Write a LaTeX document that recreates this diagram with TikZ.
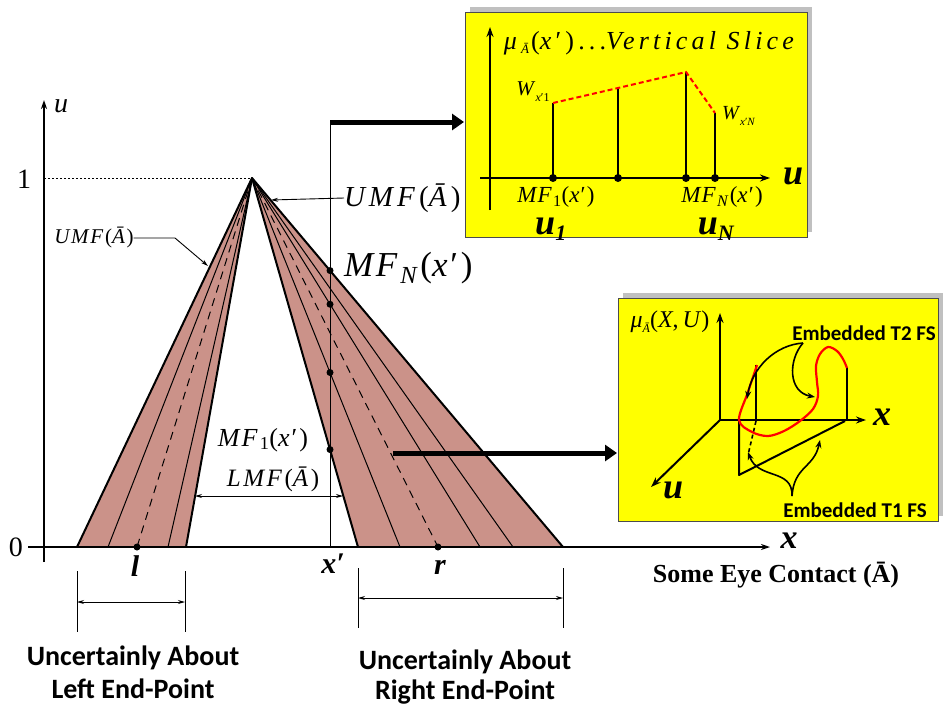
\documentclass[tikz,border=0pt]{standalone}
\usepackage{fontspec}
\setmainfont{Liberation Serif}
\newfontfamily\calib{Carlito}
\usetikzlibrary{arrows.meta,calc}
\definecolor{rose}{RGB}{203,146,137}
\definecolor{shadowgray}{RGB}{192,192,192}
\definecolor{boxyellow}{RGB}{255,255,0}
\newcommand\fsz[1]{\fontsize{#1}{#1}\selectfont}
\newcommand\Abar{\textit{Ā}}
\newcommand\xp{\textit{x}′}
\newcommand\lsp[1]{\addfontfeatures{LetterSpace=#1}}
\begin{document}
\begin{tikzpicture}[x=1pt,y=-1pt,
  thinline/.style={line width=1pt},
  edgeline/.style={line width=2pt},
  axisline/.style={line width=1.5pt,-{Stealth[length=9pt,width=6pt]}},
  boxaxis/.style={line width=2pt,-{Stealth[length=10pt,width=7pt]}},
  smallarrow/.style={line width=0.9pt,-{Stealth[length=7pt,width=4pt]}},
  dblarrow/.style={line width=0.9pt,{Stealth[length=7pt,width=4pt]}-{Stealth[length=7pt,width=4pt]}},
  bigarrow/.style={line width=5pt,-{Triangle[length=12pt,width=16pt]}},
  curvearrow/.style={line width=1.6pt,-{Stealth[length=8pt,width=6pt]}},
  stem/.style={line width=2pt},
  lab/.style={inner sep=0pt,outer sep=0pt},
  boldsans/.style={lab,font=\calib\bfseries\fsz{28}},
  embsans/.style={lab,font=\calib\bfseries\fsz{21}},
  ybox/.style={fill=boxyellow,draw=black!70,line width=0.6pt},
  shadowbox/.style={fill=shadowgray,draw=none}
]
\useasboundingbox (0,0) rectangle (952,705);

% ---------- key points ----------
\coordinate (apex) at (252,178);
\coordinate (L0) at (77,547);
\coordinate (L1) at (108,547);
\coordinate (Ld) at (137,547);
\coordinate (L3) at (168,547);
\coordinate (L4) at (186,547);
\coordinate (R0) at (358,547);
\coordinate (R1) at (400,547);
\coordinate (Rd) at (438,547);
\coordinate (R3) at (480,547);
\coordinate (R4) at (513,547);
\coordinate (R5) at (563,547);

% ---------- shaded FOU ----------
\fill[rose] (apex) -- (L0) -- (L4) -- cycle;
\fill[rose] (apex) -- (R0) -- (R5) -- cycle;
\draw[thinline] (apex) -- (L1);
\draw[thinline] (apex) -- (L3);
\draw[thinline,dash pattern=on 8pt off 6pt] (apex) -- (Ld);
\draw[thinline] (apex) -- (R1);
\draw[thinline] (apex) -- (R3);
\draw[thinline] (apex) -- (R4);
\draw[thinline,dash pattern=on 8pt off 6pt] (apex) -- (Rd);
\draw[edgeline,line join=round] (L0) -- (apex) -- (L4);
\draw[edgeline,line join=round] (R0) -- (apex) -- (R5);

% ---------- axes ----------
\coordinate (ubot) at (44,562);
\coordinate (utop) at (44,100);
\coordinate (xleft) at (28,547);
\coordinate (xright) at (770,547);
\draw[axisline] (ubot) -- (utop);
\draw[axisline] (xleft) -- (xright);
\node[lab,font=\itshape\fsz{28}] (ulab) at (61,106) {u};
\node[lab,font=\bfseries\itshape\fsz{34}] (xlab) at (789,541) {x};
\node[lab,font=\fsz{28}] (one) at (24,179) {1};
\node[lab,font=\fsz{28}] (zero) at (16,547) {0};
\coordinate (onept) at (44,178);
\draw[thinline,dash pattern=on 2pt off 2pt] (onept) -- (apex);

% ---------- x' vertical ----------
\coordinate (xtop) at (330,122);
\coordinate (xbot) at (330,547);
\draw[thinline] (xtop) -- (xbot);
\fill (intersection of apex--R5 and xtop--xbot) circle (3.5);
\fill (intersection of apex--R3 and xtop--xbot) circle (3.5);
\fill (intersection of apex--R1 and xtop--xbot) circle (3.5);
\fill (intersection of apex--R0 and xtop--xbot) circle (3.5);
\fill (Ld) circle (3.5);
\fill (Rd) circle (3.5);

% ---------- labels on axis ----------
\node[lab,font=\bfseries\itshape\fsz{30}] (llab) at (135,566) {l};
\node[lab,font=\bfseries\itshape\fsz{30}] (xplab) at (333,564) {\textit{x}′};
\node[lab,font=\bfseries\itshape\fsz{30}] (rlab) at (440,567) {r};
\node[lab,font=\bfseries\fsz{26}] (eye) at (776,575) {Some Eye Contact (\=A)};

% ---------- UMF / MF labels ----------
\node[lab,font=\fsz{29},anchor=west] (umfR) at (344,198) {\lsp{14}\textit{UMF}(\Abar)};
\coordinate (umfRtip) at (271,200);
\draw[smallarrow] (umfR.west) -- (umfRtip);

\node[lab,font=\fsz{35},anchor=west] (mfN) at (344,268) {\lsp{8}\textit{MF}\textsubscript{\textit{N}}(\xp)};
\node[lab,font=\fsz{26}] (mf1) at (263,440) {\lsp{8}\textit{MF}\textsubscript{1}(\xp)};
\node[lab,font=\fsz{25}] (lmf) at (273,479) {\lsp{10}\textit{LMF}(\Abar)};
\coordinate (lmfL) at (195,496);
\coordinate (lmfR) at (343,496);
\draw[dblarrow] (lmfL) -- (lmfR);

\node[lab,font=\fsz{21}] (umfL) at (94,238) {\lsp{8}\textit{UMF}(\Abar)};
\coordinate (umfLk) at (175,238);
\coordinate (umfLtip) at (208,266);
\draw[smallarrow] (umfL.east) -- (umfLk) -- (umfLtip);

% ---------- end-point brackets ----------
\coordinate (bl1) at (77,571); \coordinate (bl2) at (77,632);
\coordinate (bl3) at (185,571); \coordinate (bl4) at (185,632);
\draw[thinline] (bl1) -- (bl2);
\draw[thinline] (bl3) -- (bl4);
\coordinate (al1) at (77,602); \coordinate (al2) at (185,602);
\draw[dblarrow] (al1) -- (al2);
\coordinate (br1) at (358,568); \coordinate (br2) at (358,628);
\coordinate (br3) at (563,568); \coordinate (br4) at (563,628);
\draw[thinline] (br1) -- (br2);
\draw[thinline] (br3) -- (br4);
\coordinate (ar1) at (358,598); \coordinate (ar2) at (563,598);
\draw[dblarrow] (ar1) -- (ar2);
\node[boldsans] (leftA) at (133,658) {Uncertainly About};
\node[boldsans] (leftB) at (133,689) {Left End-Point};
\node[boldsans] (rightA) at (465,662) {Uncertainly About};
\node[boldsans] (rightB) at (465,692) {Right End-Point};

% ---------- box 1: vertical slice ----------
\fill[shadowgray] (470,7) rectangle (812,232);
\draw[ybox] (465,12) rectangle (807,237);
\coordinate (b1arrowEnd) at (464,122);
\draw[bigarrow] (xtop) -- (b1arrowEnd);

\coordinate (v1bot) at (490,210);
\coordinate (v1top) at (490,27);
\coordinate (h1left) at (480,178);
\coordinate (h1right) at (770,178);
\draw[boxaxis] (v1bot) -- (v1top);
\draw[boxaxis] (h1left) -- (h1right);
\node[lab,font=\bfseries\itshape\fsz{36}] (u1ax) at (793,176) {u};

\coordinate (s1b) at (553,178); \coordinate (s1t) at (553,103);
\coordinate (s2b) at (618,178); \coordinate (s2t) at (618,88);
\coordinate (s3b) at (686,178); \coordinate (s3t) at (686,72);
\coordinate (s4b) at (715,178); \coordinate (s4t) at (715,113);
\draw[stem] (s1b) -- (s1t);
\draw[stem] (s2b) -- (s2t);
\draw[stem] (s3b) -- (s3t);
\draw[stem] (s4b) -- (s4t);
\foreach \p in {s1b,s2b,s3b,s4b} \fill (\p) circle (4);
\draw[red,line width=2pt,dash pattern=on 5pt off 3pt] (s1t) -- (s2t) -- (s3t) -- (s4t);

\node[lab,font=\fsz{26}] (title1) at (651,43) {\lsp{16}\textit{μ}\raisebox{-0.35ex}{\fsz{13}\textit{Ā}}(\xp)...\textit{Vertical Slice}};
\node[lab,font=\fsz{21}] (wx1) at (533,92) {\textit{W}\raisebox{-0.6ex}{\fsz{12}\textit{x}′1}};
\node[lab,font=\fsz{20},anchor=west] (wxN) at (722,116) {\textit{W}\raisebox{-0.6ex}{\fsz{11}\textit{x}′\textit{N}}};
\node[lab,font=\fsz{23}] (mf1b) at (556,197) {\lsp{5}\textit{MF}\textsubscript{1}(\xp)};
\node[lab,font=\fsz{23}] (mfNb) at (722,197) {\lsp{5}\textit{MF}\textsubscript{\textit{N}}(\xp)};
\node[lab,font=\bfseries\itshape\fsz{36}] (u1) at (551,229) {u\textsubscript{\fsz{22}\textit{1}}};
\node[lab,font=\bfseries\itshape\fsz{36}] (uN) at (716,229) {u\textsubscript{\fsz{22}\textit{N}}};

% ---------- box 2: 3D sketch ----------
\fill[shadowgray] (623,293) rectangle (943,516);
\draw[ybox] (618,298) rectangle (938,521);
\coordinate (b2arrowStart) at (393,453);
\coordinate (b2arrowEnd) at (617,453);
\draw[bigarrow] (b2arrowStart) -- (b2arrowEnd);

\coordinate (o2) at (720,420);
\coordinate (v2top) at (720,313);
\coordinate (h2right) at (866,420);
\coordinate (u2end) at (651,487);
\draw[boxaxis] (o2) -- (v2top);
\draw[boxaxis] (o2) -- (h2right);
\draw[boxaxis] (o2) -- (u2end);
\node[lab,font=\bfseries\itshape\fsz{36}] (x2lab) at (882,417) {x};
\node[lab,font=\bfseries\itshape\fsz{36}] (u2lab) at (673,490) {u};
\node[lab,font=\fsz{24}] (mu2) at (670,322) {\textit{μ}\raisebox{-0.4ex}{\fsz{12}\textit{Ā}}(\textit{X},\,\textit{U})};

\coordinate (st1b) at (756,420); \coordinate (st1t) at (756,365);
\coordinate (st2b) at (847,420); \coordinate (st2t) at (847,367);
\draw[stem] (st1b) -- (st1t);
\draw[stem] (st2b) -- (st2t);
\coordinate (t1a) at (739,420);
\coordinate (t1b) at (739,475);
\coordinate (t1c) at (845,421);
\draw[stem,line join=round] (t1a) -- (t1b) -- (t1c);
\coordinate (dsh1) at (756,421);
\coordinate (dsh2) at (748,455);
\draw[line width=1.6pt,dash pattern=on 4pt off 3pt] (dsh1) -- (dsh2);

\draw[red,line width=2.2pt,line join=round] plot[smooth,tension=0.55] coordinates {
 (757,365) (748,392) (739,420) (752,432) (768,436) (784,431) (800,421)
 (813,409) (818,396) (817,382) (816,366) (820,354) (828,347) (837,351) (843,359) (847,368)};

\node[embsans] (t2) at (864,333) {Embedded T2 FS};
\coordinate (t2p) at (803,343);
\coordinate (t2e1) at (747,399);
\coordinate (t2e2) at (815,397);
\draw[curvearrow] (t2p) .. controls (775,345) and (752,368) .. (t2e1);
\draw[curvearrow] (t2p) .. controls (788,360) and (788,392) .. (t2e2);

\node[embsans] (t1) at (855,510) {Embedded T1 FS};
\coordinate (t1p) at (792,496);
\coordinate (t1e1) at (748,452);
\coordinate (t1e2) at (820,440);
\draw[curvearrow] (t1p) .. controls (793,468) and (758,480) .. (t1e1);
\draw[curvearrow] (t1p) .. controls (794,466) and (814,468) .. (t1e2);

\end{tikzpicture}
\end{document}
